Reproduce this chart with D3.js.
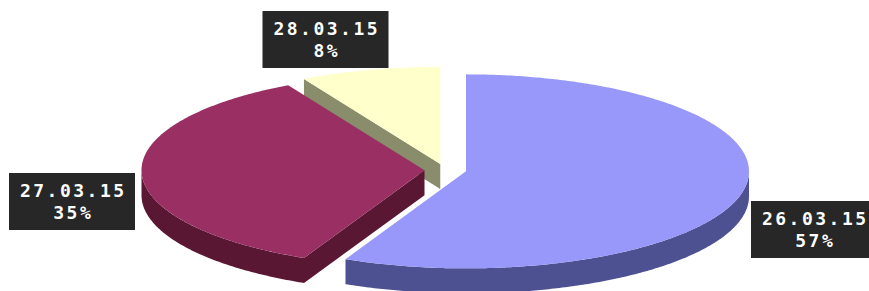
<!DOCTYPE html>
<html>
<head>
<meta charset="utf-8">
<script src="https://cdn.jsdelivr.net/npm/d3@7"></script>
<style>
  html, body { margin: 0; padding: 0; background: #ffffff; }
  svg { display: block; }
</style>
</head>
<body>
<svg id="chart" width="869" height="291"></svg>
<script>
// ---- data ----
const categories = ["26.03.15", "27.03.15", "28.03.15"];
const values = [57, 35, 8];

// ---- styles / layout ----
const topColors = ["#9898fa", "#992f63", "#ffffcc"];
const sideColors = ["#4d5192", "#5a1733", "#8a8d6c"];
const CX = 445.5, CY = 170;      // pie centre
const RX = 283, RY = 97;         // ellipse radii
const DEPTH = 25;                // thickness
const EXPLODE = 21, EXPLODE_Y = 0.3;
// label box centres (layout only)
const labelCenters = [[814, 229.5], [72, 201.5], [325.5, 39.5]];
const BOX_W = 126, BOX_H = 57;

const svg = d3.select("#chart");
const pie = d3.pie().sort(null).value(d => d).startAngle(0).endAngle(2 * Math.PI);
const arcs = pie(values).map((a, i) => {
  const mid = (a.startAngle + a.endAngle) / 2;
  return {
    ...a, i, mid,
    ox: CX + EXPLODE * Math.sin(mid),
    oy: CY - EXPLODE * EXPLODE_Y * Math.cos(mid)
  };
});

const proj = (ox, oy, ang, r = 1) => [ox + RX * r * Math.sin(ang), oy - RY * r * Math.cos(ang)];
const line = d3.line();
function sample(s, e) {
  const n = Math.max(2, Math.ceil((e - s) / 0.01));
  return d3.range(n + 1).map(k => s + (e - s) * k / n);
}

// draw back-to-front
const order = arcs.slice().sort((a, b) => (-Math.cos(a.mid)) - (-Math.cos(b.mid)));
const g = svg.append("g");

order.forEach(a => {
  const sg = g.append("g");
  const { ox, oy } = a;
  // radial faces facing the viewer
  const faces = [];
  if (Math.sin(a.startAngle) < -1e-6) faces.push(a.startAngle);
  if (Math.sin(a.endAngle) > 1e-6) faces.push(a.endAngle);
  faces.forEach(ang => {
    const p = proj(ox, oy, ang);
    const pts = [[ox, oy], p, [p[0], p[1] + DEPTH], [ox, oy + DEPTH]];
    sg.append("path").attr("d", line(pts) + "Z").attr("fill", sideColors[a.i]);
  });
  // outer curved wall (front half)
  const s = Math.max(a.startAngle, Math.PI / 2);
  const e = Math.min(a.endAngle, 3 * Math.PI / 2);
  if (e > s) {
    const angs = sample(s, e);
    const topPts = angs.map(t => proj(ox, oy, t));
    const botPts = angs.slice().reverse().map(t => { const p = proj(ox, oy, t); return [p[0], p[1] + DEPTH]; });
    sg.append("path").attr("d", line(topPts.concat(botPts)) + "Z").attr("fill", sideColors[a.i]);
  }
  // top face
  const tp = [[ox, oy]].concat(sample(a.startAngle, a.endAngle).map(t => proj(ox, oy, t)));
  sg.append("path").attr("d", line(tp) + "Z").attr("fill", topColors[a.i]);
});

// labels
const total = d3.sum(values);
arcs.forEach(a => {
  const [lx, ly] = labelCenters[a.i];
  const lg = svg.append("g").attr("transform", `translate(${lx},${ly})`);
  lg.append("rect")
    .attr("x", -BOX_W / 2).attr("y", -BOX_H / 2)
    .attr("width", BOX_W).attr("height", BOX_H)
    .attr("fill", "#272727");
  const txt = lg.append("text")
    .attr("text-anchor", "middle")
    .attr("font-family", "'DejaVu Sans Mono', monospace")
    .attr("font-weight", "bold")
    .attr("font-size", 18)
    .attr("fill", "#ffffff")
    .attr("letter-spacing", 2.5);
  txt.append("tspan").attr("x", 1.25).attr("y", -BOX_H / 2 + 23.5).text(categories[a.i]);
  txt.append("tspan").attr("x", 1.25).attr("y", -BOX_H / 2 + 46).text(Math.round(values[a.i] / total * 100) + "%");
});
</script>
</body>
</html>
